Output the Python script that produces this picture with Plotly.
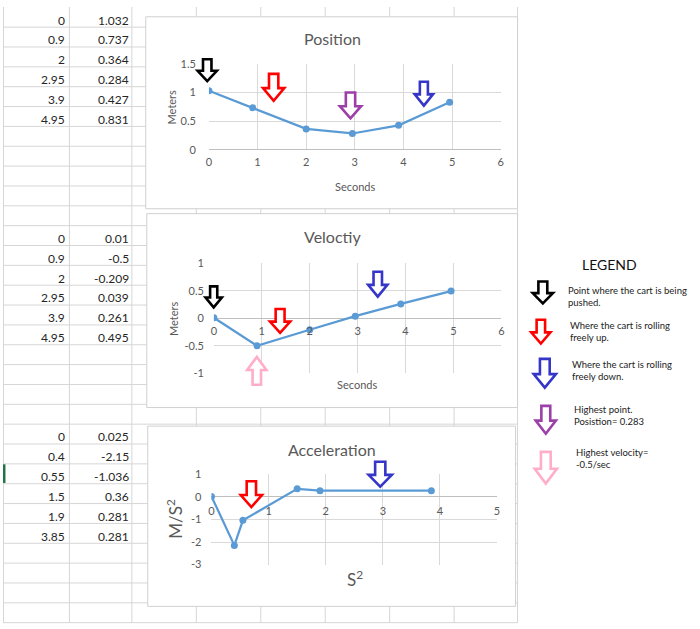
import plotly.graph_objects as go

W, H = 700, 629

# ---------------- data ----------------
pos_time = [0, 0.9, 2, 2.95, 3.9, 4.95]
pos_meters = [1.032, 0.737, 0.364, 0.284, 0.427, 0.831]

vel_time = [0, 0.9, 2, 2.95, 3.9, 4.95]
vel_values = [0.01, -0.5, -0.209, 0.039, 0.261, 0.495]

acc_time = [0, 0.4, 0.55, 1.5, 1.9, 3.85]
acc_values = [0.025, -2.15, -1.036, 0.36, 0.281, 0.281]

chart_titles = ["Position", "Veloctiy", "Acceleration"]
pos_xticks = [0, 1, 2, 3, 4, 5, 6]
pos_yticks = [0, 0.5, 1, 1.5]
vel_xticks = [0, 1, 2, 3, 4, 5, 6]
vel_yticks = [-1, -0.5, 0, 0.5, 1]
acc_xticks = [0, 1, 2, 3, 4, 5]
acc_yticks = [-3, -2, -1, 0, 1]

legend_title = "LEGEND"
legend_texts = [
    "Point where the cart is being<br>pushed.",
    "Where the cart is rolling<br>freely up.",
    "Where the cart is rolling<br>freely down.",
    "Highest point.<br>Posistion= 0.283",
    "Highest velocity=<br>-0.5/sec",
]

# ---------------- style ----------------
FONT = "Lato, Carlito, 'Liberation Sans', sans-serif"
BLUE = "#5B9BD5"
GRID = "#D9D9D9"
SHEET = "#D6D6D6"
TXT = "#595959"
C_BLACK, C_RED, C_BLUE, C_PURPLE, C_PINK = "#000000", "#FF0000", "#3535C8", "#9C3FA8", "#FFADC9"


def PX(x):
    return x / W


def PY(y):
    return 1 - y / H


def fmt(v):
    return f"{v:g}"


shapes = []
annotations = []

# spreadsheet grid
ROW_H = 20.27
for k in range(1, 32):
    y = k * ROW_H + 0.3
    if y > H:
        break
    shapes.append(dict(type="line", xref="paper", yref="paper", x0=PX(0), x1=PX(519), y0=PY(y), y1=PY(y),
                       line=dict(color=SHEET, width=1), layer="below"))
for x in [0.5, 67, 130, 195, 260, 325, 390, 455, 519]:
    shapes.append(dict(type="line", xref="paper", yref="paper", x0=PX(x), x1=PX(x), y0=PY(0), y1=PY(H),
                       line=dict(color=SHEET, width=1), layer="below"))
# selected-row marker
shapes.append(dict(type="rect", xref="paper", yref="paper", x0=PX(0), x1=PX(2.5), y0=PY(467), y1=PY(486),
                   fillcolor="#217346", line=dict(width=0), layer="below"))

# chart panels
panels = [(144, 10, 519, 206), (145, 211, 519, 409), (146, 428, 517, 612)]
for (x0, y0, x1, y1) in panels:
    shapes.append(dict(type="rect", xref="paper", yref="paper", x0=PX(x0), x1=PX(x1), y0=PY(y1), y1=PY(y0),
                       fillcolor="white", line=dict(color="#D0D0D0", width=1), layer="below"))


# cell values
def add_cells(xs, ys, start_row):
    for i, (a, b) in enumerate(zip(xs, ys)):
        yc = 13.3 + (start_row + i) * ROW_H
        annotations.append(dict(text=fmt(a), x=PX(64.5), y=PY(yc), xref="paper", yref="paper",
                                xanchor="right", yanchor="middle", showarrow=False,
                                font=dict(family=FONT, size=12, color="#262626")))
        annotations.append(dict(text=fmt(b), x=PX(129), y=PY(yc), xref="paper", yref="paper",
                                xanchor="right", yanchor="middle", showarrow=False,
                                font=dict(family=FONT, size=12, color="#262626")))


add_cells(pos_time, pos_meters, 0)
add_cells(vel_time, vel_values, 11)
add_cells(acc_time, acc_values, 21)

# plot areas (pixel boxes)
areas = [
    dict(x0=207.7, x1=502.0, y0=58.3, y1=145.7, xr=[0, 6], yr=[0, 1.5], xt=pos_xticks, yt=pos_yticks,
         ysd=12, xsd=4),
    dict(x0=212.7, x1=502.7, y0=261.7, y1=374.0, xr=[0, 6], yr=[-1, 1], xt=vel_xticks, yt=vel_yticks,
         ysd=9, xsd=5),
    dict(x0=210.3, x1=498.3, y0=477.3, y1=569.3, xr=[0, 5], yr=[-3, 1], xt=acc_xticks, yt=acc_yticks,
         ysd=9, xsd=6),
]

layout = dict(width=W, height=H, margin=dict(l=0, r=0, t=0, b=0), paper_bgcolor="white",
              plot_bgcolor="rgba(0,0,0,0)", showlegend=False, font=dict(family=FONT))

series = [(pos_time, pos_meters), (vel_time, vel_values), (acc_time, acc_values)]
traces = []
for i, (a, (xs, ys)) in enumerate(zip(areas, series)):
    sfx = "" if i == 0 else str(i + 1)
    ydom = [PY(a["y1"]), PY(a["y0"])]
    zero_pos = ydom[0] + (0 - a["yr"][0]) / (a["yr"][1] - a["yr"][0]) * (ydom[1] - ydom[0])
    layout["xaxis" + sfx] = dict(domain=[PX(a["x0"]), PX(a["x1"])], range=a["xr"], anchor="free",
                                 position=zero_pos, tickvals=a["xt"], ticktext=[fmt(t) for t in a["xt"]],
                                 showgrid=True, gridcolor=GRID, gridwidth=1, zeroline=False, showline=False,
                                 ticks="", ticklabelstandoff=a["xsd"],
                                 tickfont=dict(family=FONT, size=11, color=TXT), fixedrange=True)
    layout["yaxis" + sfx] = dict(domain=ydom, range=a["yr"], anchor="x" + sfx,
                                 tickvals=a["yt"], ticktext=[fmt(t) for t in a["yt"]],
                                 showgrid=True, gridcolor=GRID, gridwidth=1, zeroline=True,
                                 zerolinecolor="#BFBFBF", zerolinewidth=1, showline=False, ticks="",
                                 ticklabelstandoff=a["ysd"],
                                 tickfont=dict(family=FONT, size=11, color=TXT), fixedrange=True)
    traces.append(go.Scatter(x=xs, y=ys, mode="lines+markers", xaxis="x" + sfx, yaxis="y" + sfx,
                             line=dict(color=BLUE, width=2.25), marker=dict(color=BLUE, size=7),
                             hoverinfo="x+y"))

# chart titles and axis titles
title_pos = [(332, 32), (332, 234), (332, 452)]
for t, (x, y) in zip(chart_titles, title_pos):
    annotations.append(dict(text=t, x=PX(x), y=PY(y), xref="paper", yref="paper", showarrow=False,
                            xanchor="center", yanchor="middle", font=dict(family=FONT, size=16, color=TXT)))

axis_titles = [
    ("Meters", 170, 102, -90, 11), ("Seconds", 355, 183, 0, 11),
    ("Meters", 172, 318, -90, 11), ("Seconds", 357, 385, 0, 11),
    ("M/S<sup>2</sup>", 173, 523, -90, 17), ("S<sup>2</sup>", 355, 584, 0, 17),
]
for t, x, y, ang, sz in axis_titles:
    annotations.append(dict(text=t, x=PX(x), y=PY(y), xref="paper", yref="paper", showarrow=False,
                            textangle=ang, xanchor="center", yanchor="middle",
                            font=dict(family=FONT, size=sz, color=TXT)))

# legend text
annotations.append(dict(text=legend_title, x=PX(612), y=PY(263), xref="paper", yref="paper", showarrow=False,
                        xanchor="center", yanchor="middle", font=dict(family=FONT, size=14, color="#111111")))
legend_text_pos = [(568, 295.5), (570, 331.5), (572, 371.5), (574, 417.5), (576, 461.5)]
for t, (x, y) in zip(legend_texts, legend_text_pos):
    annotations.append(dict(text=t, x=PX(x), y=PY(y), xref="paper", yref="paper", showarrow=False,
                            xanchor="left", yanchor="middle", align="left",
                            font=dict(family=FONT, size=9.5, color="#222222")))


# block arrows
def arrow_path(cx, top, w, h, up=False, sw=0.44, hr=0.47):
    lw = 2.6
    w -= lw
    h -= lw
    top += lw / 2
    s = w * sw / 2
    if not up:
        hy = top + h * (1 - hr)
        pts = [(cx - s, top), (cx + s, top), (cx + s, hy), (cx + w / 2, hy), (cx, top + h),
               (cx - w / 2, hy), (cx - s, hy)]
    else:
        bot = top + h
        hy = bot - h * (1 - hr)
        pts = [(cx - s, bot), (cx + s, bot), (cx + s, hy), (cx + w / 2, hy), (cx, top),
               (cx - w / 2, hy), (cx - s, hy)]
    d = "M " + " L ".join(f"{PX(x):.5f},{PY(y):.5f}" for x, y in pts) + " Z"
    return d


arrows = [
    (206, 52, 22, 25, C_BLACK, False), (273, 67, 24, 30, C_RED, False),
    (350.5, 86, 24, 29, C_PURPLE, False), (424.5, 75, 21, 27, C_BLUE, False),
    (212.5, 284, 19, 24, C_BLACK, False), (279.5, 307, 23, 27, C_RED, False),
    (378, 269, 22, 28, C_BLUE, False), (256, 356, 22, 31, C_PINK, True),
    (250.5, 483, 24, 29, C_RED, False), (380.5, 463, 26, 28, C_BLUE, False),
    (544.5, 279, 23, 25, C_BLACK, False), (542.5, 318, 22, 27, C_RED, False),
    (546.5, 358, 25, 32, C_BLUE, False), (547.5, 406, 23, 31, C_PURPLE, False),
    (547.5, 453, 25, 35, C_PINK, False),
]
for cx, top, w, h, col, up in arrows:
    shapes.append(dict(type="path", xref="paper", yref="paper", path=arrow_path(cx, top, w, h, up),
                       fillcolor="white", line=dict(color=col, width=2.6), layer="above"))

layout["shapes"] = shapes
layout["annotations"] = annotations

fig = go.Figure(data=traces, layout=layout)
fig.write_html(
    "out.html",
    config={"displayModeBar": False},
    post_script="document.body.style.margin='0';document.body.style.padding='0';"
                "document.documentElement.style.overflow='hidden';",
)
